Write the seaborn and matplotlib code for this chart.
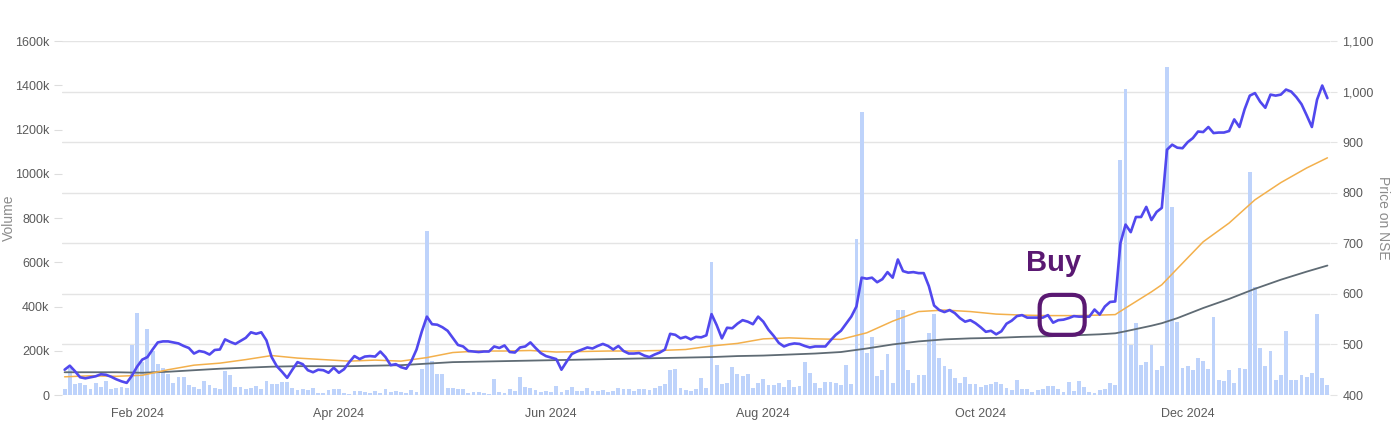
import matplotlib
matplotlib.use("Agg")
import matplotlib.pyplot as plt
from matplotlib.patches import FancyBboxPatch
from matplotlib.ticker import FuncFormatter
import pandas as pd
import seaborn as sns

# NSE weekday holidays inside the window (bars are trading days only)
nse_holidays = ["2024-01-22", "2024-01-26", "2024-03-08", "2024-03-25", "2024-03-29",
                "2024-04-11", "2024-04-17", "2024-05-01", "2024-05-20", "2024-06-17",
                "2024-07-17", "2024-08-15", "2024-10-02", "2024-11-01", "2024-11-15",
                "2024-11-20", "2024-12-25"]

# daily volume, thousands of shares
volume_k = [
    27, 122, 50, 55, 44, 27, 52, 36, 63, 28,
    33, 36, 33, 226, 372, 150, 297, 197, 141, 122,
    95, 52, 83, 80, 45, 37, 25, 65, 46, 33,
    25, 110, 90, 38, 38, 26, 33, 42, 25, 65,
    51, 51, 57, 60, 30, 23, 26, 23, 30, 11,
    11, 23, 26, 26, 11, 5, 17, 17, 14, 11,
    17, 8, 26, 14, 20, 14, 8, 23, 14, 117,
    741, 155, 95, 93, 33, 30, 27, 27, 11, 14,
    15, 11, 3, 72, 15, 8, 26, 20, 80, 38,
    30, 24, 15, 18, 15, 42, 15, 23, 38, 18,
    18, 33, 18, 18, 23, 15, 18, 33, 27, 26,
    18, 27, 27, 23, 30, 41, 49, 114, 117, 30,
    22, 20, 28, 78, 33, 602, 137, 48, 52, 125,
    97, 85, 97, 30, 52, 73, 45, 45, 52, 36,
    70, 37, 40, 149, 100, 52, 33, 61, 60, 52,
    45, 137, 48, 703, 1280, 189, 264, 85, 115, 185,
    52, 383, 383, 115, 55, 89, 89, 282, 368, 167,
    130, 119, 77, 55, 80, 48, 48, 37, 43, 50,
    58, 48, 33, 22, 70, 25, 25, 15, 22, 25,
    40, 40, 25, 13, 58, 18, 63, 36, 15, 7,
    22, 25, 55, 43, 1064, 1384, 226, 326, 137, 148,
    226, 112, 130, 1481, 852, 331, 122, 133, 112, 167,
    152, 118, 353, 66, 63, 115, 52, 122, 118, 1006,
    487, 212, 133, 201, 66, 92, 291, 67, 67, 89,
    80, 100, 368, 77, 43,
]

# closing price on NSE
price = [
    450, 458, 447, 435, 433, 435, 437, 441, 440, 436,
    431, 427, 424, 438, 456, 470, 475, 490, 504, 506,
    506, 504, 502, 497, 493, 482, 487, 485, 480, 489,
    490, 510, 505, 501, 507, 513, 524, 521, 524, 508,
    475, 457, 446, 434, 450, 465, 461, 449, 445, 450,
    449, 444, 454, 444, 451, 465, 477, 471, 476, 477,
    476, 486, 475, 459, 461, 455, 452, 467, 490, 525,
    555, 540, 539, 534, 527, 513, 499, 496, 487, 486,
    485, 486, 486, 496, 493, 498, 485, 484, 494, 496,
    504, 493, 483, 477, 474, 471, 450, 466, 481, 486,
    490, 494, 492, 497, 501, 497, 490, 497, 487, 482,
    482, 483, 478, 475, 480, 484, 490, 521, 519, 512,
    515, 510, 515, 514, 518, 560, 538, 512, 533, 532,
    541, 548, 545, 540, 555, 545, 529, 517, 503, 496,
    500, 502, 501, 497, 494, 496, 496, 496, 508, 519,
    527, 541, 555, 575, 632, 630, 632, 623, 629, 643,
    632, 668, 645, 642, 643, 641, 641, 615, 577, 568,
    564, 568, 562, 552, 545, 548, 542, 534, 525, 527,
    520, 526, 541, 547, 556, 558, 553, 553, 553, 553,
    558, 543, 548, 549, 552, 556, 555, 555, 555, 569,
    559, 575, 584, 585, 700, 737, 722, 752, 752, 772,
    746, 762, 770, 885, 895, 889, 888, 900, 908, 921,
    920, 930, 918, 919, 919, 922, 945, 930, 965, 992,
    997, 980, 968, 994, 992, 994, 1004, 1000, 989, 975,
    953, 930, 984, 1012, 987,
]

# moving averages, sampled every few trading days
ma_idx = [0, 5, 10, 15, 20, 25, 30, 35, 40, 45, 50, 55, 60, 65, 70, 75, 80, 85, 90, 95,
          100, 105, 110, 115, 120, 125, 130, 135, 140, 145, 150, 155, 160, 165, 170, 175,
          180, 185, 190, 195, 200, 203, 205, 210, 212, 215, 220, 225, 230, 235, 240, 244]
ma50 = [436, 438, 437, 439, 450, 459, 463, 470, 478, 473, 470, 467, 469, 467, 474, 484,
        487, 487, 488, 485, 486, 487, 487, 488, 490, 497, 502, 511, 513, 511, 510, 523,
        546, 565, 568, 565, 560, 558, 557, 557, 558, 559, 572, 604, 618, 650, 703, 740,
        786, 820, 849, 869]
ma200 = [445, 445, 445, 444, 446, 449, 452, 454, 456, 457, 457, 457, 458, 459, 462, 465,
         466, 467, 468, 469, 470, 471, 472, 473, 474, 475, 477, 478, 480, 482, 485, 492,
         500, 506, 510, 512, 513, 515, 516, 518, 520, 522, 526, 537, 542, 552, 572, 590,
         610, 628, 644, 656]

month_starts = ["2024-02-01", "2024-04-01", "2024-06-01", "2024-08-01", "2024-10-01", "2024-12-01"]
month_labels = ["Feb 2024", "Apr 2024", "Jun 2024", "Aug 2024", "Oct 2024", "Dec 2024"]
vol_ticks = [0, 200, 400, 600, 800, 1000, 1200, 1400, 1600]
price_ticks = [400, 500, 600, 700, 800, 900, 1000, 1100]

sns.set_style("white")
plt.rcParams["font.family"] = ["Liberation Sans", "DejaVu Sans"]
plt.rcParams["axes.grid"] = False

dates = pd.bdate_range("2024-01-10", periods=len(volume_k), freq="C", holidays=nse_holidays)
n = len(dates)
df = pd.DataFrame({"idx": range(n), "volume": volume_k, "price": price})
ma = pd.DataFrame({"idx": ma_idx, "ma50": ma50, "ma200": ma200})

grid_c = "#e4e4e4"
text_c = "#5a5a5a"
purple = "#5a1872"

fig = plt.figure(figsize=(14, 4.41), dpi=100)
ax = fig.add_axes([0.0443, 0.1043, 0.9057, 0.8027])   # gridlines + price labels
ax_vol = ax.twinx()                                   # volume bars (left axis)
ax_line = ax.twinx()                                  # price lines on top

sns.barplot(data=df, x="idx", y="volume", ax=ax_vol, native_scale=True,
            color="#bed3fb", saturation=1, width=0.74, linewidth=0, errorbar=None)
sns.lineplot(data=ma, x="idx", y="ma200", ax=ax_line, color="#5f6b74", linewidth=1.3)
sns.lineplot(data=ma, x="idx", y="ma50", ax=ax_line, color="#f3b04c", linewidth=1.1)
sns.lineplot(data=df, x="idx", y="price", ax=ax_line, color="#5148ee", linewidth=1.9)

for a in (ax, ax_vol, ax_line):
    a.set_xlim(-0.5, n - 0.5)
    for s in a.spines.values():
        s.set_visible(False)

# price scale: gridlines and right-hand labels
ax.set_ylim(400, 1100)
ax.set_yticks(price_ticks)
ax.yaxis.set_major_formatter(FuncFormatter(lambda v, p: f"{int(v):,}"))
ax.yaxis.tick_right()
ax.yaxis.set_label_position("right")
ax.tick_params(axis="y", length=5, color=grid_c, labelcolor=text_c, labelsize=9, pad=4)
ax.set_ylabel("Price on NSE", rotation=270, va="bottom", color="#8c8c8c", fontsize=10)
ax.yaxis.set_label_coords(1.036, 0.5)

tick_pos = [int(dates.searchsorted(pd.Timestamp(m))) for m in month_starts]
ax.set_xticks(tick_pos)
ax.set_xticklabels(month_labels)
ax.tick_params(axis="x", length=4, color="#cccccc", labelcolor=text_c, labelsize=9, pad=5)
ax.set_xlabel("")

# volume scale on the left
ax_vol.set_ylim(0, 1600)
ax_vol.set_yticks(vol_ticks)
ax_vol.yaxis.set_major_formatter(FuncFormatter(lambda v, p: "0" if v == 0 else f"{int(v)}k"))
ax_vol.yaxis.tick_left()
ax_vol.yaxis.set_label_position("left")
ax_vol.tick_params(axis="y", length=6, color="#dddddd", labelcolor=text_c, labelsize=9, pad=3)
ax_vol.set_ylabel("Volume", color="#8c8c8c", fontsize=10)
ax_vol.yaxis.set_label_coords(-0.036, 0.5)

ax_line.set_ylim(400, 1100)
ax_line.set_yticks([])
ax_line.set_ylabel("")
ax_line.set_xlabel("")

# only the price scale draws gridlines, behind the bars
ax_vol.yaxis.grid(False)
ax_line.yaxis.grid(False)
ax.xaxis.grid(False)
ax.yaxis.grid(True, color=grid_c, linewidth=1)

# hand-drawn "Buy" note
ax_line.text(191.1, 661, "Buy", color=purple, fontsize=21, fontweight="bold",
             ha="center", va="center")
ax_line.add_patch(FancyBboxPatch((188.4, 519), 8.7, 79,
                                 boxstyle="round,pad=0,rounding_size=2.4",
                                 mutation_aspect=10.2, fill=False, edgecolor=purple,
                                 linewidth=3, zorder=5))

fig.savefig("out.png", dpi=100)
